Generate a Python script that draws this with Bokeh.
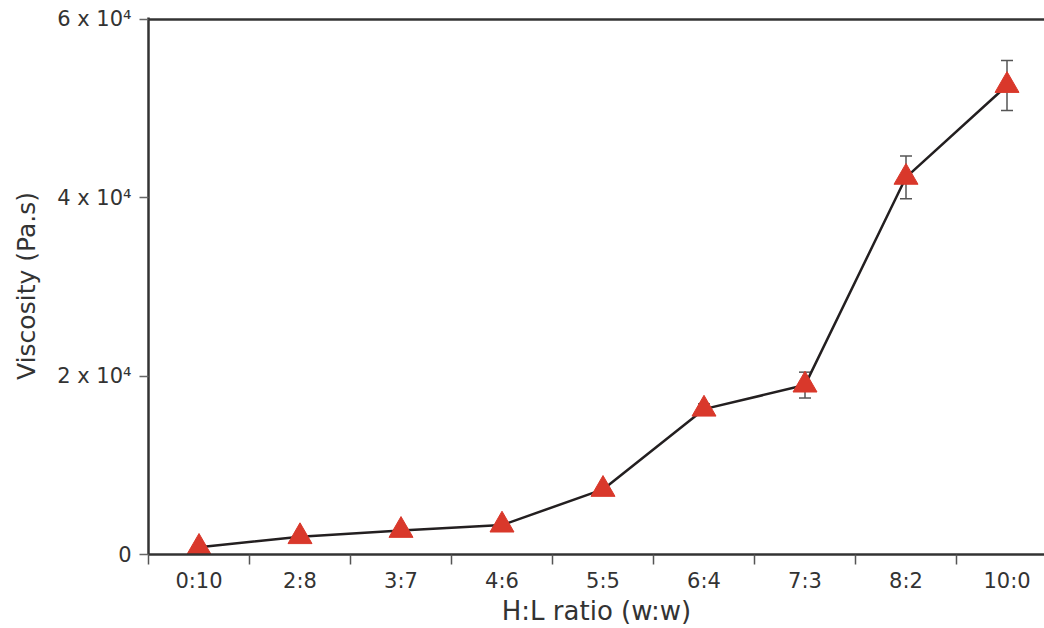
from bokeh.plotting import figure
from bokeh.models import (ColumnDataSource, Range1d, FixedTicker, Whisker, TeeHead, Span)
from bokeh.embed import file_html
from bokeh.resources import INLINE

ratios = ["0:10", "2:8", "3:7", "4:6", "5:5", "6:4", "7:3", "8:2", "10:0"]
viscosity = [800, 2000, 2700, 3300, 7300, 16300, 19000, 42300, 52600]
error = [100, 300, 350, 300, 200, 600, 1450, 2400, 2800]
y_ticks = [0, 20000, 40000, 60000]
y_tick_labels = ["0", "2 x 10\u2074", "4 x 10\u2074", "6 x 10\u2074"]

FONT = "DejaVu Sans"
TXT = "#333333"

xs = list(range(len(ratios)))
src = ColumnDataSource(dict(
    x=xs, y=viscosity,
    upper=[v + e for v, e in zip(viscosity, error)],
    lower=[v - e for v, e in zip(viscosity, error)],
))

p = figure(width=1044, height=628, output_backend="svg", toolbar_location=None,
           x_range=Range1d(-0.5, -0.5 + 896 / 101), y_range=Range1d(0, 60223),
           min_border_left=148, min_border_right=0, min_border_top=17, min_border_bottom=72)
p.outline_line_color = None
p.grid.visible = False
p.background_fill_color = "white"

# top border line
p.add_layout(Span(location=60000, dimension="width", line_color="#333333", line_width=2.5))

# x axis
xa = p.xaxis[0]
xa.ticker = FixedTicker(ticks=xs, minor_ticks=[i - 0.5 for i in xs])
xa.major_label_overrides = {i: r for i, r in enumerate(ratios)}
xa.major_tick_out = 0
xa.major_tick_in = 0
xa.minor_tick_out = 10
xa.minor_tick_in = 0
xa.minor_tick_line_color = "#555555"
xa.minor_tick_line_width = 1.5
xa.axis_line_color = "#333333"
xa.axis_line_width = 2.5
xa.major_label_text_font = FONT
xa.major_label_text_font_size = "21px"
xa.major_label_text_color = TXT
xa.major_label_standoff = 4
xa.axis_label = "H:L ratio (w:w)"
xa.axis_label_text_font = FONT
xa.axis_label_text_font_size = "26px"
xa.axis_label_text_font_style = "normal"
xa.axis_label_text_color = TXT
xa.axis_label_standoff = 0

# y axis
ya = p.yaxis[0]
ya.ticker = FixedTicker(ticks=y_ticks, minor_ticks=[])
ya.major_label_overrides = {t: l for t, l in zip(y_ticks, y_tick_labels)}
ya.major_tick_out = 9
ya.major_tick_in = 0
ya.major_tick_line_color = "#666666"
ya.major_tick_line_width = 1.5
ya.axis_line_color = "#333333"
ya.axis_line_width = 2.5
ya.major_label_text_font = FONT
ya.major_label_text_font_size = "21px"
ya.major_label_text_color = TXT
ya.major_label_standoff = 8
ya.axis_label = "Viscosity (Pa.s)"
ya.axis_label_text_font = FONT
ya.axis_label_text_font_size = "25px"
ya.axis_label_text_font_style = "normal"
ya.axis_label_text_color = TXT
ya.axis_label_standoff = 13

p.line("x", "y", source=src, line_color="#231f20", line_width=2.5)
p.add_layout(Whisker(source=src, base="x", upper="upper", lower="lower",
                     line_color="#555555", line_width=1.5,
                     upper_head=TeeHead(size=12, line_color="#555555", line_width=1.5),
                     lower_head=TeeHead(size=12, line_color="#555555", line_width=1.5)))
p.scatter("x", "y", source=src, marker="triangle", size=24,
          fill_color="#d9382b", line_color="#d9382b", line_width=1)

open("out.html", "w").write(file_html(p, INLINE))
